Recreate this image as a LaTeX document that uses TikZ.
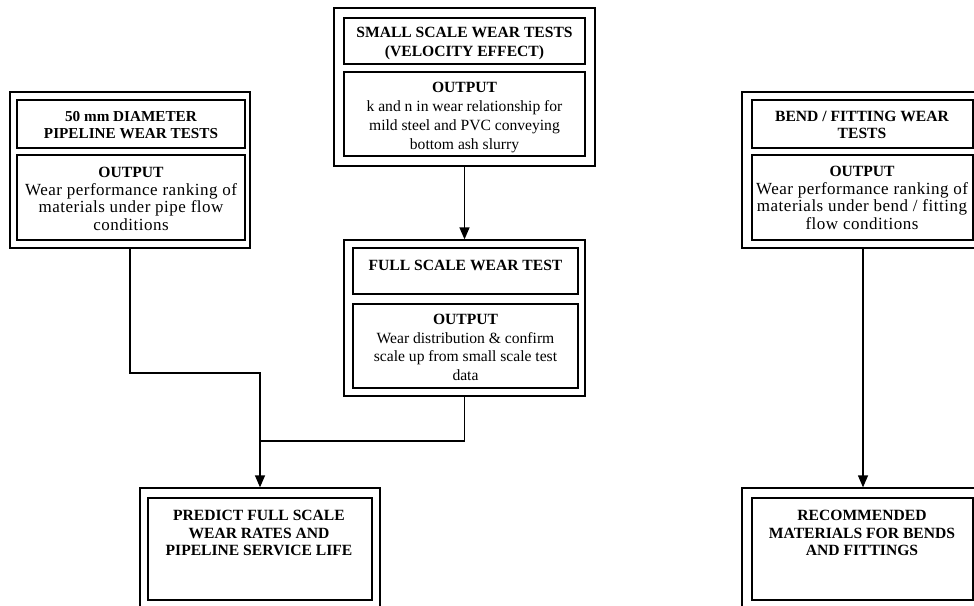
\documentclass[tikz,border=0pt]{standalone}
\usepackage{fontspec}
\setmainfont{Liberation Serif}
\newfontfamily\widefont[LetterSpace=3]{Liberation Serif}
\usetikzlibrary{arrows.meta}
\tikzset{
 frame/.style={draw,line width=1.3pt,inner sep=0pt},
 txt/.style={align=center,inner sep=0pt,font=\fontsize{15.6}{19}\selectfont},
 bigtxt/.style={align=center,inner sep=0pt,font=\widefont\fontsize{17}{17.8}\selectfont},
 hd/.style={align=center,inner sep=0pt,font=\fontsize{15.6}{17.5}\selectfont\bfseries},
 arr/.style={line width=1.3pt,-{Triangle[length=12pt,width=10pt]}},
 ln/.style={line width=1.3pt}
}
\newcommand{\outhead}{{\rmfamily\fontsize{15.6}{17.8}\selectfont\bfseries OUTPUT}}
\begin{document}
\begin{tikzpicture}[x=1pt,y=-1pt]
\useasboundingbox (0,0) rectangle (974,605);
\clip (0,0) rectangle (974,605);
% left box
\node[frame,minimum width=240,minimum height=156] (lbox) at (130,170) {};
\node[frame,minimum width=228,minimum height=48] (lhead) at (131,124) {};
\node[hd,font=\fontsize{15.2}{17}\selectfont\bfseries] (lheadt) at (131,125) {50 mm DIAMETER\\PIPELINE WEAR TESTS};
\node[frame,minimum width=228,minimum height=85] (lout) at (131,197.5) {};
\node[bigtxt] (loutt) at (131,199) {\outhead\\Wear performance ranking of\\materials under pipe flow\\conditions};
% top box
\node[frame,minimum width=261,minimum height=158] (tbox) at (464.5,87) {};
\node[frame,minimum width=241,minimum height=46] (thead) at (464.5,41) {};
\node[hd,font=\fontsize{15.6}{19.5}\selectfont\bfseries] (theadt) at (464.5,43.5) {SMALL SCALE WEAR TESTS\\(VELOCITY EFFECT)};
\node[frame,minimum width=241,minimum height=84] (tout) at (464.5,114) {};
\node[txt] (toutt) at (464.5,118) {\textbf{OUTPUT}\\k and n in wear relationship for\\mild steel and PVC conveying\\bottom ash slurry};
% full scale box
\node[frame,minimum width=241,minimum height=156] (fbox) at (464.5,318) {};
\node[frame,minimum width=225,minimum height=46] (fhead) at (465.5,271) {};
\node[hd] (fheadt) at (465.5,265) {FULL SCALE WEAR TEST};
\node[frame,minimum width=225,minimum height=84] (fout) at (465.5,346) {};
\node[txt,font=\fontsize{15.6}{18.5}\selectfont] (foutt) at (465.5,347.5) {\textbf{OUTPUT}\\Wear distribution \& confirm\\scale up from small scale test\\data};
% right box
\node[frame,minimum width=242,minimum height=156] (rbox) at (863,170) {};
\node[frame,minimum width=221,minimum height=48] (rhead) at (862.5,124) {};
\node[hd] (rheadt) at (862,125) {BEND / FITTING WEAR\\TESTS};
\node[frame,minimum width=221,minimum height=85] (rout) at (862.5,197.5) {};
\node[bigtxt] (routt) at (862,198) {\outhead\\Wear performance ranking of\\materials under bend / fitting\\flow conditions};
% bottom left
\node[frame,minimum width=240,minimum height=120] (pbox) at (260,548) {};
\node[frame,minimum width=224,minimum height=102] (pin) at (260,549) {};
\node[hd] (pint) at (259,533) {PREDICT FULL SCALE\\WEAR RATES AND\\PIPELINE SERVICE LIFE};
% bottom right
\node[frame,minimum width=242,minimum height=120] (rbbox) at (863,548) {};
\node[frame,minimum width=221,minimum height=102] (rbin) at (862.5,549) {};
\node[hd] (rbint) at (862,533) {RECOMMENDED\\MATERIALS FOR BENDS\\AND FITTINGS};
% connectors
\coordinate (lj) at (0,373);
\coordinate (fj) at (0,441);
\draw[arr] (lbox.south) -- (lbox.south |- lj) -| (pbox.north);
\draw[arr] (tbox.south) -- (fbox.north);
\draw[ln] (fbox.south) -- (fbox.south |- fj) -- (pbox.north |- fj);
\draw[arr] (rbox.south) -- (rbbox.north);
\end{tikzpicture}
\end{document}
